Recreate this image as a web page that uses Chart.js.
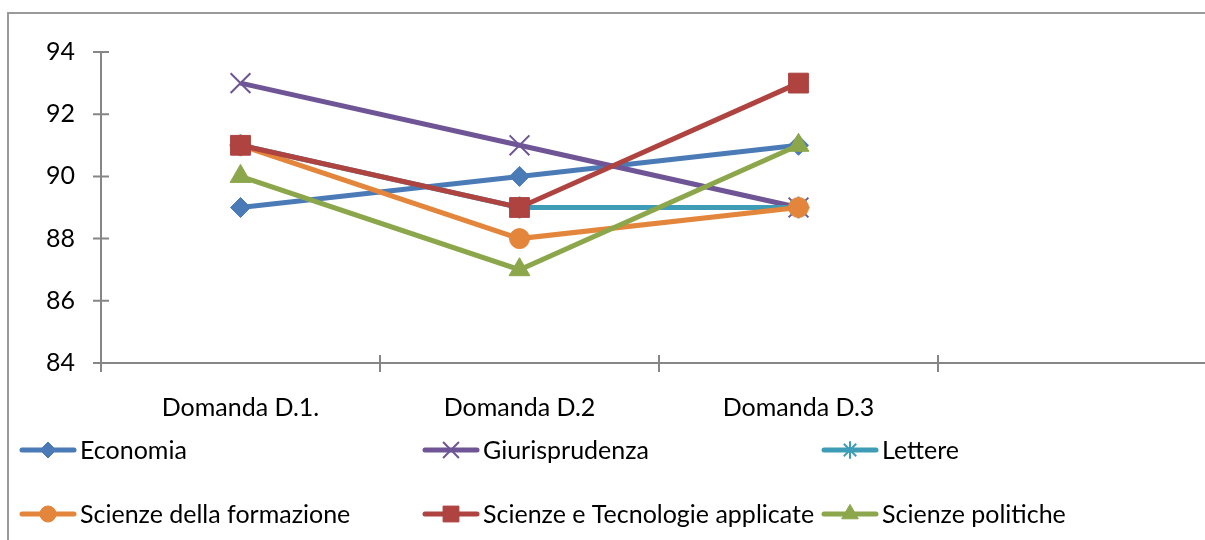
<!DOCTYPE html>
<html>
<head>
<meta charset="utf-8">
<script src="https://cdn.jsdelivr.net/npm/chart.js@4/dist/chart.umd.min.js"></script>
<style>
  html, body { margin: 0; padding: 0; background: #fff; overflow: hidden; }
  #wrap { position: relative; width: 1217px; height: 540px; overflow: hidden; }
  #chart { display: block; }
</style>
</head>
<body>
<div id="wrap"><canvas id="chart" width="1217" height="540"></canvas></div>
<script>
// ---------- DATA ----------
const categories = ["Domanda D.1.", "Domanda D.2", "Domanda D.3", ""];
const economia = [89, 90, 91];
const giurisprudenza = [93, 91, 89];
const lettere = [91, 89, 89];
const scienzeFormazione = [91, 88, 89];
const scienzeTecnologie = [91, 89, 93];
const scienzePolitiche = [90, 87, 91];
const yMin = 84, yMax = 94, yStep = 2;

const seriesNames = ["Economia", "Giurisprudenza", "Lettere", "Scienze della formazione",
    "Scienze e Tecnologie applicate", "Scienze politiche"];
const seriesValues = [economia, giurisprudenza, lettere, scienzeFormazione, scienzeTecnologie, scienzePolitiche];
const seriesColors = ["#4a7bb7", "#6f5595", "#3f9cb6", "#e3853a", "#ae4340", "#8ca74b"];
const seriesMarkers = [
    { style: "rectRot", radius: 10, border: 1 },
    { style: "crossRot", radius: 14, border: 2 },
    { style: "star", radius: 11, border: 2 },
    { style: "circle", radius: 10, border: 1 },
    { style: "rect", radius: 14, border: 1 },
    { style: "triangle", radius: 12, border: 1 }
];

const FONT = "Lato, 'Open Sans', sans-serif";
const axisColor = "#868686";

// ---------- PLUGINS ----------
const frame = {
    id: "frame",
    beforeDraw(chart) {
        const ctx = chart.ctx;
        ctx.save();
        ctx.fillStyle = "#fff";
        ctx.fillRect(0, 0, chart.width, chart.height);
        ctx.strokeStyle = "#9a9a9a";
        ctx.lineWidth = 2;
        ctx.beginPath();
        ctx.moveTo(8, chart.height);
        ctx.lineTo(8, 13);
        ctx.lineTo(chart.width, 13);
        ctx.stroke();
        ctx.restore();
    }
};

// cross tick marks (Excel style)
const crossTicks = {
    id: "crossTicks",
    afterDatasetsDraw(chart) {
        const ctx = chart.ctx;
        const { x, y } = chart.scales;
        ctx.save();
        ctx.strokeStyle = axisColor;
        ctx.lineWidth = 2;
        ctx.beginPath();
        y.ticks.forEach((t, i) => {
            const py = y.getPixelForTick(i);
            ctx.moveTo(x.left - 8, py);
            ctx.lineTo(x.left + 8, py);
        });
        for (let i = 0; i <= categories.length; i++) {
            const px = x.getPixelForValue(i - 0.5);
            ctx.moveTo(px, y.bottom - 8);
            ctx.lineTo(px, y.bottom + 9);
        }
        ctx.stroke();
        ctx.restore();
    }
};

// legend: line sample + marker + label
const legendCols = [20, 423, 822];
const legendRows = [450, 514];
const lineLegend = {
    id: "lineLegend",
    afterDraw(chart) {
        const ctx = chart.ctx;
        ctx.save();
        ctx.font = "25px " + FONT;
        ctx.textBaseline = "middle";
        ctx.fillStyle = "#000";
        chart.data.datasets.forEach((ds, i) => {
            const lx = legendCols[i % 3];
            const ly = legendRows[Math.floor(i / 3)];
            ctx.strokeStyle = ds.borderColor;
            ctx.lineWidth = 5;
            ctx.lineCap = "round";
            ctx.beginPath();
            ctx.moveTo(lx + 2, ly);
            ctx.lineTo(lx + 54, ly);
            ctx.stroke();
            ctx.lineCap = "butt";
            ctx.fillStyle = ds.pointBackgroundColor;
            ctx.strokeStyle = ds.pointBorderColor;
            ctx.lineWidth = ds.pointBorderWidth;
            Chart.helpers.drawPoint(ctx, {
                pointStyle: ds.pointStyle,
                radius: ds.pointRadius * 0.8,
                rotation: 0,
                borderWidth: ds.pointBorderWidth
            }, lx + 28, ly);
            ctx.fillStyle = "#000";
            ctx.fillText(ds.label, lx + 60, ly + 1);
        });
        ctx.restore();
    }
};

// ---------- CHART ----------
const datasets = seriesNames.map((name, i) => ({
    label: name,
    data: seriesValues[i],
    borderColor: seriesColors[i],
    backgroundColor: seriesColors[i],
    borderWidth: 5,
    tension: 0,
    pointStyle: seriesMarkers[i].style,
    pointRadius: seriesMarkers[i].radius,
    pointBorderWidth: seriesMarkers[i].border,
    pointBackgroundColor: seriesColors[i],
    pointBorderColor: seriesColors[i],
    order: seriesNames.length - i
}));

const tickFont = { family: FONT, size: 25 };

new Chart(document.getElementById("chart"), {
    type: "line",
    data: { labels: categories, datasets },
    options: {
        responsive: false,
        animation: false,
        layout: { autoPadding: false, padding: { top: 52, right: 0, bottom: 0, left: 0 } },
        plugins: { legend: { display: false }, tooltip: { enabled: false } },
        scales: {
            x: {
                offset: true,
                grid: { display: false, drawTicks: false },
                border: { display: true, color: axisColor, width: 2 },
                ticks: { font: tickFont, color: "#000", padding: 30, maxRotation: 0, autoSkip: false },
                afterFit: s => { s.height = 177; }
            },
            y: {
                min: yMin,
                max: yMax,
                grid: { display: false, drawTicks: false },
                border: { display: true, color: axisColor, width: 2 },
                ticks: { stepSize: yStep, font: tickFont, color: "#000", padding: 26 },
                afterFit: s => { s.width = 101; }
            }
        }
    },
    plugins: [frame, crossTicks, lineLegend]
});
</script>
</body>
</html>
